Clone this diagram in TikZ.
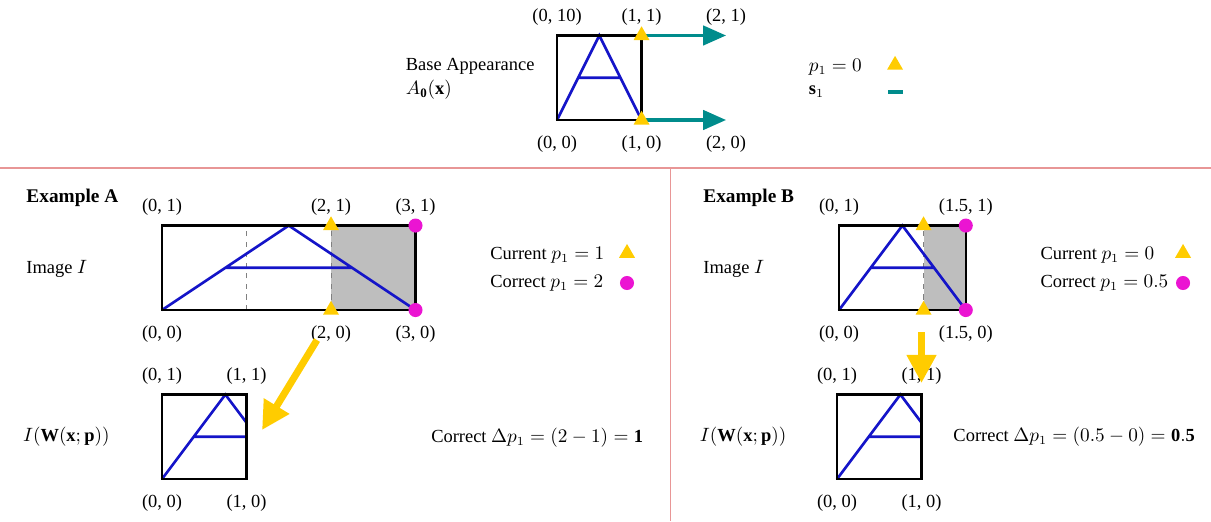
\documentclass[tikz,border=0pt]{standalone}
\usepackage{fontspec}
\setmainfont{Liberation Serif}
\usetikzlibrary{arrows.meta,shapes.geometric}

\definecolor{glyphblue}{RGB}{20,20,200}
\definecolor{shiftteal}{RGB}{0,140,140}
\definecolor{markyellow}{RGB}{255,204,0}
\definecolor{markmagenta}{RGB}{235,20,210}
\definecolor{rulered}{RGB}{232,150,150}
\definecolor{shadegray}{RGB}{190,190,190}

\tikzset{
  boxline/.style={draw=black, line width=1.4pt},
  aglyph/.style={draw=glyphblue, line width=1.5pt},
  guideline/.style={draw=gray, dashed, line width=0.5pt},
  divider/.style={draw=rulered, line width=0.6pt},
  ymark/.style={regular polygon, regular polygon sides=3, fill=markyellow, inner sep=0pt, minimum size=10.5pt},
  mmark/.style={circle, fill=markmagenta, inner sep=0pt, minimum size=8pt},
  tealarrow/.style={draw=shiftteal, line width=1.8pt, -{Triangle[length=13pt,width=11pt]}},
  shiftarrow/.style={draw=markyellow, line width=4pt, -{Triangle[length=16pt,width=16pt]}}
}

\begin{document}
\begin{tikzpicture}[x=1.69cm, y=1.69cm, every node/.style={font=\fontsize{10.5}{12.6}\selectfont}]
  \useasboundingbox (0,0) rectangle (14.331,6.166);
  % section dividers
  \draw[divider] (0,4.178) -- (14.331,4.178);
  \draw[divider] (7.929,4.178) -- (7.929,0);

  % base appearance
  \begin{scope}[shift={(6.592,4.746)}]
    \draw[aglyph] (0,0) -- (0.5,1) -- (1,0) (0.25,0.5) -- (0.75,0.5);
    \draw[boxline] (0,0) rectangle (1,1);
    \coordinate (b10) at (1,0);
    \coordinate (b11) at (1,1);
    \coordinate (b20) at (2,0);
    \coordinate (b21) at (2,1);
    \draw[tealarrow] (b11) -- (b21);
    \draw[tealarrow] (b10) -- (b20);
    \node[ymark] (bm11) at (b11) {};
    \node[ymark] (bm10) at (b10) {};
    \node (bl01) at (0,1.22) {(0, 10)};
    \node (bl11) at (1,1.22) {(1, 1)};
    \node (bl21) at (2,1.22) {(2, 1)};
    \node (bl00) at (0,-0.29) {(0, 0)};
    \node (bl10) at (1,-0.29) {(1, 0)};
    \node (bl20) at (2,-0.29) {(2, 0)};
  \end{scope}
  \node[anchor=west] (basetxt) at (4.73,5.385) {Base Appearance};
  \node[anchor=west] (basefn) at (4.73,5.101) {$A_{\mathbf{0}}(\mathbf{x})$};
  \node[anchor=west] (baselegp) at (9.50,5.373) {$p_1 = 0$};
  \node[ymark] (baselegm) at (10.592,5.396) {};
  \node[anchor=west] (baselegs) at (9.50,5.077) {$\mathbf{s}_1$};
  \draw[shiftteal, line width=2pt] (10.509,5.077) -- (10.686,5.077);

  % example A: image
  \begin{scope}[shift={(1.917,2.497)}]
    \fill[shadegray] (2,0) rectangle (3,1);
    \draw[guideline] (1,0) -- (1,1);
    \draw[guideline] (2,0) -- (2,1);
    \draw[aglyph] (0,0) -- (1.5,1) -- (3,0) (0.75,0.5) -- (2.25,0.5);
    \draw[boxline] (0,0) rectangle (3,1);
    \node[ymark] (am21) at (2,1) {};
    \node[ymark] (am20) at (2,0) {};
    \node[mmark] (am31) at (3,1) {};
    \node[mmark] (am30) at (3,0) {};
    \node (al01) at (0,1.22) {(0, 1)};
    \node (al21) at (2,1.22) {(2, 1)};
    \node (al31) at (3,1.22) {(3, 1)};
    \node (al00) at (0,-0.29) {(0, 0)};
    \node (al20) at (2,-0.29) {(2, 0)};
    \node (al30) at (3,-0.29) {(3, 0)};
  \end{scope}
  % example A: warped
  \begin{scope}[shift={(1.917,0.497)}]
    \draw[aglyph] (0,0) -- (0.75,1) -- (1,0.667) (0.375,0.5) -- (1,0.5);
    \draw[boxline] (0,0) rectangle (1,1);
    \node (aw01) at (0,1.22) {(0, 1)};
    \node (aw11) at (1,1.22) {(1, 1)};
    \node (aw00) at (0,-0.29) {(0, 0)};
    \node (aw10) at (1,-0.29) {(1, 0)};
  \end{scope}
  \node[anchor=west, font=\fontsize{11}{13}\selectfont\bfseries] (atitle) at (0.24,3.82) {Example A};
  \node[anchor=west] (aimg) at (0.24,2.982) {Image $I$};
  \node[anchor=west] (awarp) at (0.20,0.994) {$I(\mathbf{W}(\mathbf{x};\mathbf{p}))$};
  \node[anchor=west] (acur) at (5.73,3.148) {Current $p_1 = 1$};
  \node[ymark] (acurm) at (7.42,3.17) {};
  \node[anchor=west] (acor) at (5.73,2.817) {Correct $p_1 = 2$};
  \node[mmark] (acorm) at (7.42,2.817) {};
  \node[anchor=west] (adelta) at (5.03,0.982) {Correct $\Delta p_1 = (2-1) = \mathbf{1}$};
  \coordinate (ashiftS) at (3.751,2.142);
  \coordinate (ashiftE) at (3.101,1.077);
  \draw[shiftarrow] (ashiftS) -- (ashiftE);

  % example B: image
  \begin{scope}[shift={(9.929,2.497)}]
    \fill[shadegray] (1,0) rectangle (1.5,1);
    \draw[guideline] (1,0) -- (1,1);
    \draw[aglyph] (0,0) -- (0.75,1) -- (1.5,0) (0.375,0.5) -- (1.125,0.5);
    \draw[boxline] (0,0) rectangle (1.5,1);
    \node[ymark] (bxm11) at (1,1) {};
    \node[ymark] (bxm10) at (1,0) {};
    \node[mmark] (bxm151) at (1.5,1) {};
    \node[mmark] (bxm150) at (1.5,0) {};
    \node (bxl01) at (0,1.22) {(0, 1)};
    \node (bxl151) at (1.5,1.22) {(1.5, 1)};
    \node (bxl00) at (0,-0.29) {(0, 0)};
    \node (bxl150) at (1.5,-0.29) {(1.5, 0)};
  \end{scope}
  % example B: warped
  \begin{scope}[shift={(9.905,0.497)}]
    \draw[aglyph] (0,0) -- (0.75,1) -- (1,0.667) (0.375,0.5) -- (1,0.5);
    \draw[boxline] (0,0) rectangle (1,1);
    \node (bw01) at (0,1.22) {(0, 1)};
    \node (bw11) at (1,1.22) {(1, 1)};
    \node (bw00) at (0,-0.29) {(0, 0)};
    \node (bw10) at (1,-0.29) {(1, 0)};
  \end{scope}
  \node[anchor=west, font=\fontsize{11}{13}\selectfont\bfseries] (btitle) at (8.25,3.82) {Example B};
  \node[anchor=west] (bimg) at (8.25,2.982) {Image $I$};
  \node[anchor=west] (bwarp) at (8.21,0.994) {$I(\mathbf{W}(\mathbf{x};\mathbf{p}))$};
  \node[anchor=west] (bcur) at (12.24,3.148) {Current $p_1 = 0$};
  \node[ymark] (bcurm) at (14.0,3.17) {};
  \node[anchor=west] (bcor) at (12.24,2.817) {Correct $p_1 = 0.5$};
  \node[mmark] (bcorm) at (14.0,2.817) {};
  \node[anchor=west] (bdelta) at (11.21,0.994) {Correct $\Delta p_1 = (0.5-0) = \mathbf{0.5}$};
  \coordinate (bshiftS) at (10.905,2.237);
  \coordinate (bshiftE) at (10.905,1.633);
  \draw[shiftarrow] (bshiftS) -- (bshiftE);
\end{tikzpicture}
\end{document}
